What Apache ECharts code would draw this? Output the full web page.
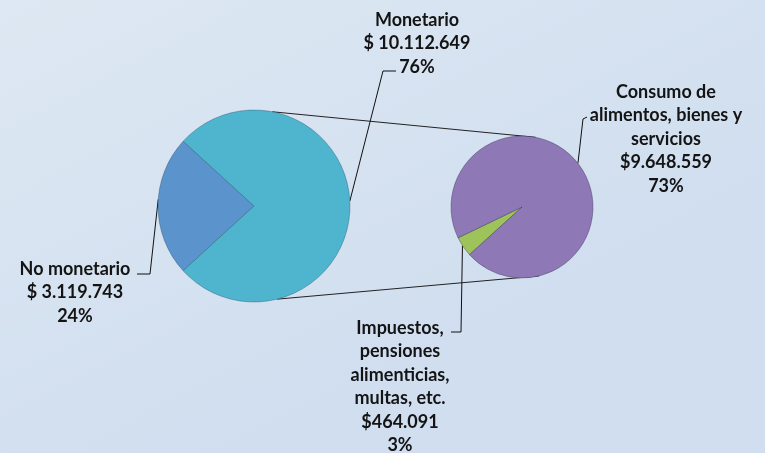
<!DOCTYPE html>
<html>
<head>
<meta charset="utf-8">
<script src="https://cdn.jsdelivr.net/npm/echarts@6/dist/echarts.min.js"></script>
<style>
  html, body { margin: 0; padding: 0; }
  #main { width: 765px; height: 453px; }
</style>
</head>
<body>
<div id="main"></div>
<script>
// datos: ingreso monetario / no monetario y su desglose
const leftNames = ['No monetario', 'Monetario'];
const leftValues = [3119743, 10112649];
const leftPct = ['24%', '76%'];

const rightNames = [['Impuestos,', 'pensiones', 'alimenticias,', 'multas, etc.'], ['Consumo de', 'alimentos, bienes y', 'servicios']];
const rightValues = [464091, 9648559];
const rightPct = ['3%', '73%'];

// geometria de los dos pasteles
const L = { cx: 254, cy: 206, r: 96 };
const R = { cx: 522, cy: 207, r: 71 };

function pt(c, deg) {
    const a = deg * Math.PI / 180;
    return [c.cx + c.r * Math.cos(a), c.cy - c.r * Math.sin(a)];
}

function money(v, sep) {
    return '$' + sep + String(v).replace(/\B(?=(\d{3})+(?!\d))/g, '.');
}

const sum = arr => arr.reduce((a, b) => a + b, 0);
const leftStart = 180 + 360 * leftValues[0] / sum(leftValues) / 2;
const rightStart = 214 + 360 * rightValues[0] / sum(rightValues) / 2;

// posiciones de etiquetas y lineas guia
const labelPos = [
    [
        { x: 75, y: 257, line: [pt(L, 176), [150, 274], [137, 274]] },
        { x: 417, y: 8, line: [pt(L, 3), [383, 71], [396, 71]] }
    ],
    [
        { x: 400, y: 316, line: [pt(R, 213), [461, 332], [451, 332]] },
        { x: 666, y: 80, line: [pt(R, 38), [583, 119], [587, 117]] }
    ]
];

const labelStyle = {
    show: true,
    position: 'outside',
    color: '#141414',
    fontFamily: 'Lato',
    fontWeight: 'bold',
    fontSize: 18,
    lineHeight: 23.5,
    align: 'center',
    overflow: 'none'
};

const myChart = echarts.init(document.getElementById('main'));

const topA = pt(L, 79), topB = pt(R, 79);
const botA = pt(L, -76), botB = pt(R, -76);

const option = {
    animation: false,
    backgroundColor: {
        type: 'linear', x: 0, y: 0, x2: 0.3, y2: 1,
        colorStops: [
            { offset: 0, color: '#dee8f3' },
            { offset: 1, color: '#d0deef' }
        ]
    },
    graphic: [
        { type: 'line', z: 1, shape: { x1: topA[0], y1: topA[1], x2: topB[0], y2: topB[1] }, style: { stroke: '#222', lineWidth: 1 } },
        { type: 'line', z: 1, shape: { x1: botA[0], y1: botA[1], x2: botB[0], y2: botB[1] }, style: { stroke: '#222', lineWidth: 1 } }
    ],
    series: [
        {
            type: 'pie',
            z: 3,
            center: [L.cx, L.cy],
            radius: L.r,
            startAngle: leftStart,
            clockwise: true,
            silent: true,
            itemStyle: { borderColor: 'rgba(30,70,90,0.35)', borderWidth: 1 },
            label: Object.assign({}, labelStyle, {
                formatter: p => leftNames[p.dataIndex] + '\n' + money(leftValues[p.dataIndex], ' ') + '\n' + leftPct[p.dataIndex]
            }),
            labelLine: { show: true, lineStyle: { color: '#111', width: 1 } },
            labelLayout: p => {
                const o = labelPos[0][p.dataIndex];
                return { x: o.x, y: o.y, align: 'center', verticalAlign: 'top', labelLinePoints: o.line };
            },
            data: leftValues.map((v, i) => ({
                value: v, name: leftNames[i],
                itemStyle: { color: ['#5b93cd', '#4fb5cf'][i] }
            }))
        },
        {
            type: 'pie',
            z: 3,
            center: [R.cx, R.cy],
            radius: R.r,
            startAngle: rightStart,
            clockwise: true,
            silent: true,
            itemStyle: { borderColor: 'rgba(40,30,70,0.35)', borderWidth: 1 },
            label: Object.assign({}, labelStyle, {
                formatter: p => rightNames[p.dataIndex].join('\n') + '\n' + money(rightValues[p.dataIndex], '') + '\n' + rightPct[p.dataIndex]
            }),
            labelLine: { show: true, lineStyle: { color: '#111', width: 1 } },
            labelLayout: p => {
                const o = labelPos[1][p.dataIndex];
                return { x: o.x, y: o.y, align: 'center', verticalAlign: 'top', labelLinePoints: o.line };
            },
            data: rightValues.map((v, i) => ({
                value: v, name: rightNames[i].join(' '),
                itemStyle: { color: ['#9dc35a', '#8e79b6'][i] }
            }))
        }
    ]
};
myChart.setOption(option);
</script>
</body>
</html>
